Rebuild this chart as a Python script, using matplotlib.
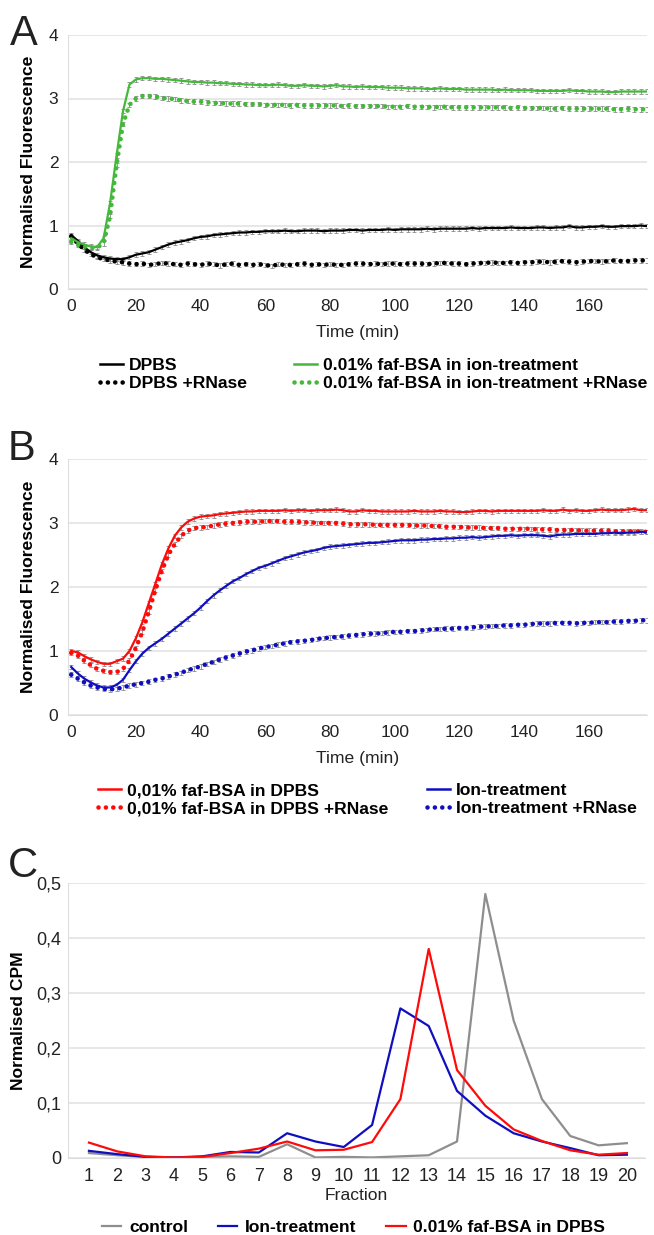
import matplotlib
matplotlib.use("Agg")
import matplotlib.pyplot as plt
from matplotlib.ticker import FuncFormatter

plt.rcParams['font.family'] = ['Liberation Sans', 'DejaVu Sans']

# time axis (min) shared by panels A and B
time_min = list(range(0, 180, 2))

# Panel A
dpbs = [0.85, 0.76, 0.66, 0.58, 0.53, 0.50, 0.48, 0.47, 0.47, 0.50,
        0.54, 0.56, 0.58, 0.62, 0.66, 0.70, 0.73, 0.75, 0.77, 0.80,
        0.82, 0.83, 0.85, 0.86, 0.87, 0.88, 0.89, 0.89, 0.90, 0.90,
        0.91, 0.91, 0.91, 0.92, 0.91, 0.91, 0.92, 0.92, 0.92, 0.91,
        0.92, 0.92, 0.92, 0.93, 0.93, 0.92, 0.93, 0.93, 0.93, 0.94,
        0.93, 0.94, 0.94, 0.94, 0.94, 0.95, 0.94, 0.95, 0.95, 0.95,
        0.95, 0.95, 0.96, 0.95, 0.96, 0.96, 0.96, 0.96, 0.97, 0.96,
        0.96, 0.96, 0.97, 0.97, 0.96, 0.97, 0.97, 0.99, 0.97, 0.97,
        0.98, 0.98, 0.99, 0.98, 0.98, 0.99, 0.99, 0.99, 1.00, 0.99]
dpbs_rnase = [0.83, 0.72, 0.62, 0.55, 0.50, 0.47, 0.45, 0.43, 0.42, 0.40,
              0.39, 0.40, 0.38, 0.39, 0.41, 0.40, 0.39, 0.38, 0.40, 0.39,
              0.38, 0.40, 0.39, 0.37, 0.39, 0.40, 0.38, 0.39, 0.38, 0.39,
              0.38, 0.36, 0.39, 0.38, 0.38, 0.39, 0.40, 0.38, 0.39, 0.38,
              0.39, 0.38, 0.38, 0.39, 0.40, 0.40, 0.39, 0.40, 0.39, 0.40,
              0.40, 0.39, 0.40, 0.40, 0.40, 0.39, 0.40, 0.41, 0.41, 0.40,
              0.40, 0.39, 0.40, 0.41, 0.41, 0.42, 0.41, 0.41, 0.42, 0.41,
              0.42, 0.42, 0.43, 0.43, 0.42, 0.43, 0.44, 0.43, 0.42, 0.43,
              0.44, 0.44, 0.43, 0.44, 0.45, 0.44, 0.44, 0.45, 0.45, 0.45]
bsa_ion = [0.80, 0.74, 0.70, 0.67, 0.66, 0.80, 1.35, 2.10, 2.80, 3.22,
           3.30, 3.32, 3.32, 3.31, 3.31, 3.30, 3.29, 3.28, 3.27, 3.26,
           3.26, 3.25, 3.25, 3.24, 3.24, 3.23, 3.23, 3.22, 3.22, 3.21,
           3.21, 3.21, 3.22, 3.21, 3.20, 3.20, 3.21, 3.20, 3.20, 3.19,
           3.20, 3.21, 3.19, 3.19, 3.18, 3.19, 3.18, 3.18, 3.18, 3.17,
           3.17, 3.17, 3.16, 3.16, 3.16, 3.15, 3.15, 3.16, 3.15, 3.15,
           3.15, 3.14, 3.14, 3.14, 3.14, 3.14, 3.13, 3.14, 3.13, 3.13,
           3.13, 3.13, 3.12, 3.12, 3.12, 3.12, 3.12, 3.13, 3.12, 3.12,
           3.11, 3.11, 3.11, 3.10, 3.10, 3.11, 3.11, 3.11, 3.11, 3.11]
bsa_ion_rnase = [0.74, 0.70, 0.67, 0.65, 0.65, 0.72, 1.15, 1.95, 2.60, 2.90,
                 3.00, 3.04, 3.04, 3.03, 3.01, 3.00, 2.99, 2.97, 2.96, 2.95,
                 2.95, 2.94, 2.93, 2.93, 2.92, 2.92, 2.92, 2.91, 2.91, 2.91,
                 2.90, 2.90, 2.90, 2.90, 2.89, 2.90, 2.89, 2.89, 2.89, 2.89,
                 2.89, 2.89, 2.88, 2.89, 2.88, 2.88, 2.88, 2.88, 2.88, 2.87,
                 2.87, 2.87, 2.88, 2.87, 2.87, 2.87, 2.86, 2.87, 2.87, 2.86,
                 2.86, 2.86, 2.86, 2.86, 2.86, 2.86, 2.86, 2.86, 2.85, 2.86,
                 2.85, 2.85, 2.85, 2.85, 2.84, 2.84, 2.85, 2.84, 2.84, 2.84,
                 2.84, 2.84, 2.84, 2.84, 2.83, 2.83, 2.84, 2.83, 2.83, 2.83]

# Panel B
bsa_dpbs = [1.00, 0.98, 0.92, 0.87, 0.83, 0.80, 0.80, 0.84, 0.88, 1.00,
            1.20, 1.45, 1.75, 2.05, 2.35, 2.60, 2.80, 2.93, 3.02, 3.07,
            3.10, 3.11, 3.12, 3.14, 3.15, 3.16, 3.17, 3.18, 3.18, 3.19,
            3.19, 3.19, 3.19, 3.20, 3.19, 3.20, 3.20, 3.19, 3.20, 3.20,
            3.20, 3.21, 3.20, 3.18, 3.18, 3.20, 3.19, 3.19, 3.18, 3.18,
            3.18, 3.18, 3.18, 3.19, 3.18, 3.18, 3.18, 3.19, 3.18, 3.18,
            3.17, 3.17, 3.18, 3.19, 3.19, 3.18, 3.19, 3.19, 3.19, 3.19,
            3.19, 3.19, 3.19, 3.20, 3.19, 3.19, 3.21, 3.19, 3.20, 3.19,
            3.19, 3.20, 3.21, 3.20, 3.20, 3.20, 3.21, 3.22, 3.20, 3.20]
bsa_dpbs_rnase = [0.97, 0.93, 0.85, 0.78, 0.72, 0.69, 0.67, 0.67, 0.72, 0.85,
                  1.05, 1.30, 1.62, 1.95, 2.25, 2.50, 2.67, 2.80, 2.88, 2.92,
                  2.93, 2.94, 2.96, 2.98, 2.99, 3.00, 3.01, 3.02, 3.02, 3.02,
                  3.03, 3.03, 3.03, 3.02, 3.02, 3.02, 3.01, 3.01, 3.00, 3.00,
                  3.00, 3.00, 2.99, 2.98, 2.98, 2.98, 2.98, 2.97, 2.97, 2.97,
                  2.97, 2.97, 2.97, 2.96, 2.96, 2.96, 2.95, 2.95, 2.94, 2.94,
                  2.94, 2.93, 2.93, 2.93, 2.92, 2.92, 2.92, 2.91, 2.91, 2.91,
                  2.91, 2.91, 2.90, 2.90, 2.90, 2.89, 2.89, 2.89, 2.89, 2.88,
                  2.88, 2.88, 2.88, 2.88, 2.87, 2.87, 2.87, 2.87, 2.87, 2.86]
ion = [0.75, 0.65, 0.57, 0.51, 0.46, 0.43, 0.43, 0.47, 0.55, 0.70,
       0.84, 0.96, 1.05, 1.12, 1.19, 1.27, 1.35, 1.43, 1.51, 1.59,
       1.68, 1.78, 1.87, 1.95, 2.02, 2.09, 2.14, 2.20, 2.25, 2.30,
       2.33, 2.37, 2.41, 2.45, 2.48, 2.51, 2.54, 2.56, 2.58, 2.61,
       2.63, 2.64, 2.65, 2.66, 2.67, 2.68, 2.69, 2.69, 2.70, 2.71,
       2.72, 2.73, 2.73, 2.73, 2.74, 2.74, 2.75, 2.75, 2.76, 2.76,
       2.77, 2.77, 2.78, 2.77, 2.78, 2.79, 2.80, 2.80, 2.81, 2.80,
       2.81, 2.81, 2.81, 2.80, 2.79, 2.81, 2.82, 2.82, 2.83, 2.83,
       2.83, 2.83, 2.84, 2.84, 2.85, 2.84, 2.85, 2.85, 2.86, 2.86]
ion_rnase = [0.63, 0.57, 0.51, 0.46, 0.43, 0.41, 0.40, 0.41, 0.43, 0.46,
             0.48, 0.50, 0.52, 0.55, 0.57, 0.60, 0.63, 0.66, 0.70, 0.73,
             0.76, 0.80, 0.83, 0.87, 0.90, 0.93, 0.96, 0.99, 1.01, 1.04,
             1.06, 1.08, 1.10, 1.12, 1.14, 1.15, 1.16, 1.17, 1.19, 1.20,
             1.21, 1.22, 1.23, 1.24, 1.25, 1.26, 1.27, 1.27, 1.28, 1.29,
             1.30, 1.30, 1.31, 1.31, 1.32, 1.33, 1.34, 1.34, 1.35, 1.35,
             1.36, 1.36, 1.37, 1.38, 1.38, 1.39, 1.39, 1.40, 1.40, 1.41,
             1.41, 1.42, 1.43, 1.43, 1.43, 1.44, 1.44, 1.44, 1.43, 1.44,
             1.44, 1.45, 1.45, 1.45, 1.46, 1.46, 1.47, 1.47, 1.48, 1.48]
err_fluor = 0.035  # rough SEM shown by the grey caps

# Panel C
fractions = list(range(1, 21))
cpm_control = [0.009, 0.005, 0.002, 0.001, 0.002, 0.003, 0.002, 0.025, 0.001, 0.002,
               0.001, 0.003, 0.005, 0.030, 0.480, 0.250, 0.107, 0.040, 0.023, 0.027]
cpm_ion = [0.013, 0.007, 0.002, 0.001, 0.003, 0.011, 0.010, 0.045, 0.030, 0.020,
           0.060, 0.272, 0.240, 0.122, 0.077, 0.045, 0.030, 0.018, 0.005, 0.006]
cpm_bsa = [0.028, 0.012, 0.003, 0.001, 0.002, 0.009, 0.017, 0.030, 0.014, 0.015,
           0.029, 0.107, 0.380, 0.160, 0.095, 0.052, 0.031, 0.014, 0.006, 0.009]

W, H = 654, 1235
GREEN = '#44b83a'
RED = '#ff0a0a'
BLUE = '#0f0fc0'
GREY = '#8e8e8e'
TXT = '#222222'
DOT = (0, (0.01, 1.6))
FS = 12.6

fig = plt.figure(figsize=(W / 100, H / 100), dpi=100)


def px_axes(left, top, right, bottom):
    return fig.add_axes([left / W, 1 - bottom / H, (right - left) / W, (bottom - top) / H])


def style(ax):
    for s in ['top', 'right']:
        ax.spines[s].set_visible(False)
    ax.spines['left'].set_color('#dddddd')
    ax.spines['bottom'].set_color('#dddddd')
    ax.grid(axis='y', color='#e3e3e3', lw=1.2)
    ax.set_axisbelow(True)
    ax.tick_params(length=0, labelsize=12.5, colors=TXT, pad=7)


def fluor_panel(ax, series):
    style(ax)
    for y, c, ls in series:
        ax.errorbar(time_min, y, yerr=err_fluor, fmt='none', ecolor='#8a8a8a',
                    elinewidth=0.6, capsize=1.6, capthick=0.6, zorder=2)
        if ls == 'solid':
            ax.plot(time_min, y, color=c, lw=1.6, zorder=3)
        else:
            ax.plot(time_min, y, color=c, lw=3.3, ls=DOT, dash_capstyle='round', zorder=3)
    ax.set_xlim(-1, 178)
    ax.set_ylim(0, 4)
    ax.set_yticks([0, 1, 2, 3, 4])
    ax.set_xticks(range(0, 161, 20))
    ax.set_xlabel('Time (min)', fontsize=FS, color=TXT, labelpad=8)
    ax.set_ylabel('Normalised Fluorescence', fontsize=FS, fontweight='bold', labelpad=9)


def legend(handles, labels, x, y, ncol, spacing, hlen=1.3, pad=0.35):
    fig.legend(handles, labels, loc='upper left', bbox_to_anchor=(x / W, 1 - y / H),
               ncol=ncol, frameon=False, borderpad=0, borderaxespad=0,
               handlelength=hlen, handletextpad=pad, columnspacing=spacing,
               labelspacing=0.15, prop={'weight': 'bold', 'size': FS})


def solid(c):
    return plt.Line2D([], [], color=c, lw=1.8)


def dotted(c):
    return plt.Line2D([], [], color=c, lw=3.3, ls=DOT, dash_capstyle='round')


# ---- A ----
axA = px_axes(68, 35, 647, 289)
fluor_panel(axA, [(dpbs, 'black', 'solid'), (dpbs_rnase, 'black', 'dot'),
                  (bsa_ion, GREEN, 'solid'), (bsa_ion_rnase, GREEN, 'dot')])
legend([solid('black'), dotted('black'), solid(GREEN), dotted(GREEN)],
       ['DPBS', 'DPBS +RNase', '0.01% faf-BSA in ion-treatment',
        '0.01% faf-BSA in ion-treatment +RNase'], 100, 358, 2, 2.7)
fig.text(10 / W, 1 - 45 / H, 'A', fontsize=30, color=TXT, va='baseline')

# ---- B ----
axB = px_axes(68, 459, 647, 715)
fluor_panel(axB, [(bsa_dpbs, RED, 'solid'), (bsa_dpbs_rnase, RED, 'dot'),
                  (ion, BLUE, 'solid'), (ion_rnase, BLUE, 'dot')])
legend([solid(RED), dotted(RED), solid(BLUE), dotted(BLUE)],
       ['0,01% faf-BSA in DPBS', '0,01% faf-BSA in DPBS +RNase',
        'Ion-treatment', 'Ion-treatment +RNase'], 98, 783, 2, 2.2)
fig.text(8 / W, 1 - 460 / H, 'B', fontsize=30, color=TXT, va='baseline')

# ---- C ----
axC = px_axes(68, 883, 645, 1158)
style(axC)
axC.plot(fractions, cpm_control, color=GREY, lw=1.6, label='control')
axC.plot(fractions, cpm_ion, color=BLUE, lw=1.6, label='Ion-treatment')
axC.plot(fractions, cpm_bsa, color=RED, lw=1.6, label='0.01% faf-BSA in DPBS')
axC.set_xlim(0.26, 20.64)
axC.set_ylim(0, 0.5)
axC.set_xticks(fractions)
axC.set_yticks([0, 0.1, 0.2, 0.3, 0.4, 0.5])
axC.yaxis.set_major_formatter(FuncFormatter(lambda v, p: '0' if v == 0 else f'{v:.1f}'.replace('.', ',')))
axC.tick_params(axis='x', labelsize=13)
axC.tick_params(axis='y', labelsize=13, pad=5)
axC.set_xlabel('Fraction', fontsize=FS, color=TXT, labelpad=2)
axC.set_ylabel('Normalised CPM', fontsize=FS, fontweight='bold', labelpad=7)
hC, lC = axC.get_legend_handles_labels()
legend(hC, lC, 102, 1220, 3, 1.7, hlen=1.1, pad=0.45)
fig.text(8 / W, 1 - 877 / H, 'C', fontsize=30, color=TXT, va='baseline')

fig.savefig('out.png', dpi=100)
